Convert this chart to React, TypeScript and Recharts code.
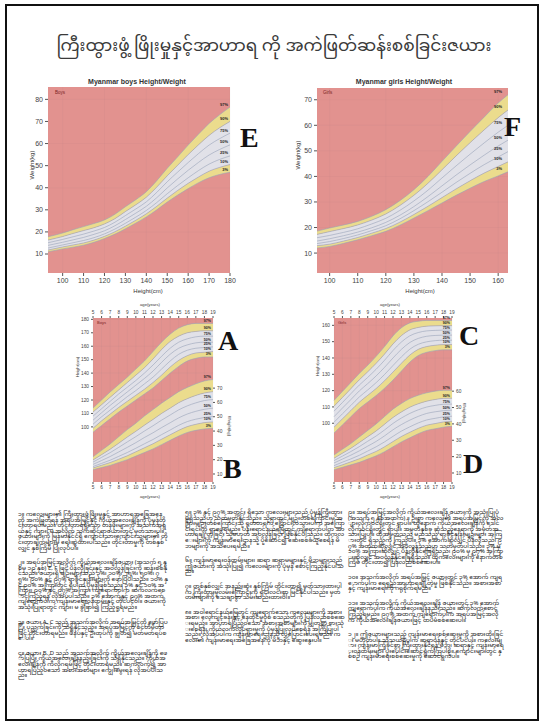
import React from "react";
import { ComposedChart, Area, Line, XAxis, YAxis, CartesianGrid } from "recharts";

const PERCENTILES = ["3%", "10%", "25%", "50%", "75%", "90%", "97%"];

// E: boys weight for height
const boysWhHeight = [93, 100, 105, 110, 115, 120, 125, 130, 135, 140, 145, 150, 155, 160, 165, 170, 175, 180];
const boysWh3 = [11, 12.3, 13.1, 14, 15.3, 17, 19, 21.4, 24, 26.8, 30, 33.5, 36.7, 39.6, 42.3, 44.5, 46, 47];
const boysWh10 = [11.8, 13.2, 14.1, 15, 16.3, 18, 20.1, 22.6, 25.3, 28.2, 31.6, 35.3, 38.8, 42, 44.9, 47.5, 49.2, 50.5];
const boysWh25 = [12.7, 14.1, 15.1, 16.1, 17.4, 19.1, 21.3, 23.9, 26.7, 29.7, 33.3, 37.3, 41, 44.5, 47.8, 50.7, 52.8, 54.4];
const boysWh50 = [13.9, 15.3, 16.4, 17.5, 18.9, 20.5, 22.8, 25.6, 28.5, 31.6, 35.5, 39.9, 44, 47.9, 51.5, 54.8, 57.3, 59.4];
const boysWh75 = [15.1, 16.6, 17.8, 19, 20.4, 22, 24.4, 27.4, 30.4, 33.6, 37.9, 42.7, 47.1, 51.4, 55.5, 59.3, 62.2, 64.7];
const boysWh90 = [16.3, 17.9, 19.3, 20.6, 21.9, 23.6, 26, 29.2, 32.3, 35.7, 40.3, 45.4, 50.2, 55, 59.5, 63.7, 67.1, 70];
const boysWh97 = [17.8, 19.5, 21, 22.4, 23.8, 25.4, 28, 31.4, 34.6, 38.2, 43.2, 48.8, 54, 59.3, 64.3, 69.1, 73, 76.5];

// F: girls weight for height
const girlsWhHeight = [95.5, 100, 105, 110, 115, 120, 125, 130, 135, 140, 145, 150, 155, 160, 163.5];
const girlsWh3 = [12, 12.6, 13.8, 15.2, 16.8, 18.5, 20.9, 23.7, 26.6, 29.6, 32.6, 35.4, 38, 40.2, 41.8];
const girlsWh10 = [12.9, 13.5, 14.7, 16.1, 17.8, 19.6, 22.1, 25.1, 28.3, 31.7, 35.1, 38.3, 41.3, 43.9, 45.7];
const girlsWh25 = [13.7, 14.5, 15.7, 17.1, 18.8, 20.7, 23.4, 26.6, 30.1, 33.8, 37.6, 41.2, 44.6, 47.6, 49.7];
const girlsWh50 = [14.7, 15.6, 16.8, 18.2, 19.9, 22, 24.8, 28.2, 32.1, 36.3, 40.5, 44.5, 48.3, 51.9, 54.2];
const girlsWh75 = [16, 16.9, 18.1, 19.5, 21.4, 23.6, 26.7, 30.4, 34.6, 39.4, 44.1, 48.7, 53.1, 57.3, 60];
const girlsWh90 = [17.3, 18.4, 19.6, 21, 22.9, 25.3, 28.6, 32.6, 37.3, 42.6, 48, 53.2, 58.2, 63, 66];
const girlsWh97 = [18.6, 19.8, 21, 22.4, 24.4, 27, 30.5, 34.8, 40, 45.9, 51.8, 57.6, 63.2, 68.7, 72];

const ages = [5, 6, 7, 8, 9, 10, 11, 12, 13, 14, 15, 16, 17, 18, 19];

// A: boys height for age
const boysH3 = [96, 101, 106, 111, 115.5, 120, 124.5, 129, 134.5, 140, 145, 149, 151, 152, 152];
const boysH10 = [99, 104.5, 109.5, 114.5, 119, 123.5, 128, 133, 138.5, 144.5, 149.5, 153, 155, 155.5, 156];
const boysH25 = [102, 107.5, 112.5, 117.5, 122.5, 127, 132, 137, 143, 149, 154, 157, 158.5, 159, 159.5];
const boysH50 = [105, 110.5, 116, 121, 126, 131, 136, 141.5, 148, 154, 158.5, 161, 162.5, 163, 163];
const boysH75 = [108, 113.5, 119, 124.5, 129.5, 134.5, 140, 146, 152.5, 158.5, 163, 165.5, 167, 167.5, 167.5];
const boysH90 = [111, 116.5, 122, 127.5, 133, 138.5, 144, 150.5, 157.5, 163.5, 167.5, 170, 171, 171.5, 171.5];
const boysH97 = [114, 120, 126, 131.5, 137, 143, 149, 156, 163, 169, 173.5, 176, 177, 177, 177];

// B: boys weight for age
const boysW3 = [13, 14.5, 16, 18, 20, 22.5, 25, 27.5, 30.5, 33.5, 36.5, 39, 40.5, 41.5, 42];
const boysW10 = [14.2, 16.1, 18, 20.3, 22.7, 25.5, 28.3, 31.1, 34.3, 37.4, 40.5, 43.1, 44.7, 45.9, 46.4];
const boysW25 = [15.2, 17.4, 19.6, 22.3, 25, 28, 31.1, 34.1, 37.5, 40.7, 44, 46.6, 48.3, 49.5, 50.2];
const boysW50 = [16.7, 19.4, 22.2, 25.4, 28.6, 31.9, 35.5, 38.8, 42.4, 45.8, 49.2, 51.9, 53.8, 55.2, 56];
const boysW75 = [18.3, 21.6, 24.9, 28.6, 32.4, 36.1, 40, 43.7, 47.6, 51.2, 54.8, 57.6, 59.7, 61.3, 62];
const boysW90 = [19.8, 23.5, 27.3, 31.5, 35.8, 39.8, 44.1, 48.1, 52.3, 56, 59.8, 62.6, 64.9, 66.6, 67.5];
const boysW97 = [22, 26.5, 31, 36, 41, 45.5, 50.5, 55, 59.5, 63.5, 67.5, 70.5, 73, 75, 76];

// C: girls height for age
const girlsH3 = [94, 99, 104, 109, 113, 117, 121.5, 126.5, 132, 137.5, 141.5, 143.5, 144.5, 145, 145];
const girlsH10 = [97.6, 102.7, 107.8, 112.9, 117.1, 121.3, 126.1, 131.4, 136.8, 141.8, 145.3, 147, 147.8, 148.2, 148.2];
const girlsH25 = [100.6, 105.8, 110.9, 116.1, 120.4, 124.9, 129.9, 135.4, 140.7, 145.4, 148.4, 149.9, 150.6, 150.9, 150.9];
const girlsH50 = [104, 109.3, 114.5, 119.8, 124.3, 129, 134.3, 140, 145.3, 149.5, 152, 153.3, 153.8, 154, 154];
const girlsH75 = [107.4, 112.7, 118.1, 123.4, 128.1, 133.1, 138.6, 144.6, 149.8, 153.6, 155.6, 156.6, 156.9, 157.1, 157.1];
const girlsH90 = [110.4, 115.8, 121.2, 126.6, 131.5, 136.7, 142.4, 148.6, 153.7, 157.2, 158.7, 159.5, 159.7, 159.8, 159.8];
const girlsH97 = [114, 119.5, 125, 130.5, 135.5, 141, 147, 153.5, 158.5, 161.5, 162.5, 163, 163, 163, 163];

// D: girls weight for age
const girlsW3 = [12, 13.5, 15, 16.5, 18.5, 20.5, 23, 26, 29, 31.5, 34, 36, 37, 38, 38.5];
const girlsW10 = [13.3, 15, 16.8, 18.7, 21, 23.2, 26, 29.2, 32.3, 34.9, 37.3, 39.2, 40.2, 41.2, 41.6];
const girlsW25 = [14.5, 16.6, 18.6, 20.8, 23.4, 26, 29, 32.4, 35.6, 38.2, 40.6, 42.4, 43.4, 44.3, 44.7];
const girlsW50 = [16.1, 18.5, 20.9, 23.5, 26.4, 29.3, 32.7, 36.4, 39.6, 42.3, 44.6, 46.4, 47.4, 48.1, 48.4];
const girlsW75 = [17.6, 20.3, 23.1, 26.1, 29.4, 32.6, 36.3, 40.3, 43.6, 46.4, 48.6, 50.3, 51.3, 52, 52.1];
const girlsW90 = [19, 22.1, 25.1, 28.6, 32.2, 35.7, 39.8, 43.9, 47.3, 50.2, 52.3, 53.9, 54.9, 55.6, 55.7];
const girlsW97 = [21, 24.5, 28, 32, 36, 40, 44.5, 49, 52.5, 55.5, 57.5, 59, 60, 60.5, 60.5];

const titleText = "ကြီးထွားဖွံ့ ဖြိုးမှုနှင့်အာဟာရ ကို အကဲဖြတ်ဆန်းစစ်ခြင်းဇယား";

const col1 = [
  "၁။ ကလေးများ၏ ကြီးထွားဖွံ့ဖြိုးမှုနှင့် အာဟာရအခြေအနေကို အကဲဖြတ်ရန် အရပ်အမြင့်နှင့် ကိုယ်အလေးချိန်ကို ပုံမှန်တိုင်းတာရပါမည်။ တိုင်းတာရရှိသော တန်ဖိုးများကို အသက်အရွယ်နှင့် ကျား၊ မ အလိုက် သက်ဆိုင်ရာဇယားတွင် မှတ်သားပါ။ ဇယားများကို မြန်မာနိုင်ငံရှိ ကျောင်းသားကျောင်းသူများ၏ တိုင်းတာချက်များမှ ရေးဆွဲထားပါသည်။ တိုင်းတာမှုကို တစ်နှစ်လျှင် နှစ်ကြိမ် ပြုလုပ်ပါ။",
  "၂။ အရပ်အမြင့်အလိုက် ကိုယ်အလေးချိန်ဇယား (အသက် ၅ နှစ်မှ ၁၉ နှစ်) E, F ဖြင့် ပိန်လှီခြင်းနှင့် အဝလွန်ခြင်းကို ဆန်းစစ်နိုင်သည်။ ဇယားရှိ မျဉ်းများသည် ၃%၊ ၁၀%၊ ၂၅%၊ ၅၀%၊ ၇၅%၊ ၉၀% နှင့် ၉၇% ရာခိုင်နှုန်းများကို ဖော်ပြပါသည်။ ၁၀% နှင့် ၉၀% အကြားတွင် ရှိပါက ပုံမှန်ဖြစ်သည်။ ၃% နှင့် ၁၀% အကြား၊ ၉၀% နှင့် ၉၇% အကြား ကျရောက်ပါက ဆက်လက်စောင့်ကြည့်ရန် လိုအပ်ပါသည်။ ၃% အောက်နှင့် ၉၇% အထက် ကျရောက်ပါက ကျန်းမာရေးဝန်ထမ်းနှင့် တိုင်ပင်ပါ။ ဇယားကို အသုံးပြုရာတွင် ကျား၊ မ ခွဲခြား၍ ကြည့်ရှုရမည်။",
  "၃။ ဇယား A, C သည် အသက်အလိုက် အရပ်အမြင့်ကို ဖော်ပြပြီး ပုညှက်ခြင်းကို သိရှိနိုင်သည်။ အရပ်အမြင့်ကို စင်တီမီတာဖြင့် တိုင်းတာရမည်။ ဖိနပ်နှင့် ဦးထုပ်ကို ချွတ်၍ မတ်မတ်ရပ်စေပါ။",
  "၄။ ဇယား B, D သည် အသက်အလိုက် ကိုယ်အလေးချိန်ကို ဖော်ပြပြီး ကိုယ်အလေးချိန်နည်းခြင်းကို သိရှိနိုင်သည်။ ကိုယ်အလေးချိန်ကို ကီလိုဂရမ်ဖြင့် တိုင်းတာရမည်။ ဆက်လက်၍ အာဟာရပြည့်ဝသော အစားအစာများ ကျွေးမွေးရန် လိုအပ်ပါသည်။",
];

const col2 = [
  "၅။ ၃% နှင့် ၉၇% အတွင်း ရှိသော ကလေးများသည် ပုံမှန်ကြီးထွားမှုရှိသည်ဟု သတ်မှတ်နိုင်သည်။ သို့ရာတွင် မျဉ်းတစ်ကြောင်းမှ အခြားမျဉ်းတစ်ကြောင်းသို့ ရုတ်တရက် ပြောင်းလဲသွားပါက အကြောင်းရင်းကို ရှာဖွေရမည်။ ပန်းရောင်နယ်မြေတွင် ကျရောက်ပါက အာဟာရချို့တဲ့ခြင်း သို့မဟုတ် အဝလွန်ခြင်း ဖြစ်နိုင်ပါသည်။ ထိုကလေးများကို ကျန်းမာရေးဌာနသို့ ပို့ဆောင်၍ ဆေးစစ်ခံယူစေရန် မိဘများကို အသိပေးရမည်။",
  "၆။ ကျန်းမာရေးဝန်ထမ်းများ၊ ဆရာ ဆရာမများနှင့် မိဘများသည် ဤဇယားကို အသုံးပြု၍ ကလေးများကို ပုံမှန် စောင့်ကြည့်နိုင်ပါသည်။",
  "၇။ တစ်နှစ်လျှင် အနည်းဆုံး နှစ်ကြိမ် တိုင်းတာ၍ မှတ်သားထားပါက ကြီးထွားမှုလမ်းကြောင်းကို ရှင်းလင်းစွာ မြင်နိုင်ပါသည်။ မှတ်တမ်းများကို သေချာစွာ သိမ်းဆည်းထားပါ။",
  "၈။ အဝါရောင်နယ်မြေတွင် ကျရောက်သော ကလေးများကို အစားအစာ၊ လေ့ကျင့်ခန်းနှင့် နေထိုင်မှုပုံစံ စသည်တို့ကို ပြန်လည်စစ်ဆေးရမည်။ အာဟာရပြည့်ဝသော အစားအစာများကို မျှတစွာ စားသုံးစေရန်၊ ကိုယ်လက်လှုပ်ရှားမှုကို ပုံမှန်ပြုလုပ်စေရန် အကြံပြုပါသည်။ လိုအပ်ပါက ကျန်းမာရေးဌာနသို့ လွှဲပြောင်းပေးရမည်။ ကလေး၏ ကျန်းမာရေးအခြေအနေကို မိဘနှင့် ဆွေးနွေးပါ။",
];

const col3 = [
  "၉။ အရပ်အမြင့်အလိုက် ကိုယ်အလေးချိန် ဇယားကို အသုံးပြုပုံ (အသက် ၅ နှစ်အထက်) ။ ဦးစွာ ကလေး၏ အရပ်အမြင့်ကို အလျားလိုက်ဝင်ရိုးတွင် ရှာပါ။ ထို့နောက် ကိုယ်အလေးချိန်ကို ဒေါင်လိုက်ဝင်ရိုးတွင် ရှာပါ။ အမှတ်နှစ်ခု ဆုံသည့်နေရာကို အမှတ်အသားပြုပါ။ ထိုအမှတ်သည် မည်သည့် ရာခိုင်နှုန်းမျဉ်းများ အကြားတွင် ရှိသည်ကို ကြည့်ပါ။ ၃% အောက်ဆိုလျှင် ပိန်လှီသည်၊ ၉၇% အထက်ဆိုလျှင် အဝလွန်သည်ဟု သတ်မှတ်ပါသည်။ ၃% မှ ၁၀% အကြားဆိုလျှင် ပိန်လှီနိုင်ခြေရှိသည်၊ ၉၀% မှ ၉၇% အကြားဆိုလျှင် အဝလွန်နိုင်ခြေရှိသည်။ ထိုကလေးများကို နောက်တစ်ကြိမ် တိုင်းတာ၍ ပြန်လည်စစ်ဆေးပါ။",
  "၁၀။ အသက်အလိုက် အရပ်အမြင့် ဇယားတွင် ၃% အောက် ကျရောက်ပါက ရေရှည်အာဟာရချို့တဲ့မှု ဖြစ်နိုင်သည်။ အစားအစာနှင့် ကျန်းမာရေးကို ဂရုစိုက်ရမည်။",
  "၁၁။ အသက်အလိုက် ကိုယ်အလေးချိန် ဇယားတွင် ၃% အောက် ကျရောက်ပါက ကိုယ်အလေးချိန်နည်းသည်။ ဆက်လက်စောင့်ကြည့်ရမည်။ ၉၇% အထက် ကျရောက်ပါက အရပ်အမြင့်အလိုက် ကိုယ်အလေးချိန်ဇယားဖြင့် ထပ်မံစစ်ဆေးပါ။",
  "၁၂။ ဤဇယားများသည် ကျန်းမာရေးစစ်ဆေးမှုကို အစားထိုးခြင်း မဟုတ်ပါ။ သံသယရှိပါက ဆရာဝန်နှင့် တိုင်ပင်ပါ။ ကလေးများ ကျန်းမာကြံ့ခိုင်စွာ ကြီးထွားနိုင်ရန် မိဘ၊ ဆရာနှင့် ကျန်းမာရေးဝန်ထမ်းများ ပူးပေါင်းဆောင်ရွက်ကြပါစို့။ ကျောင်းများတွင် နှစ်စဉ် ကျန်းမာရေးစစ်ဆေးမှုကို ဆောင်ရွက်ပါ။",
];

const PINK = "#e2928f";
const YELLOW = "#ebe08d";
const BLUE = "#e1e8f0";
const LINE = "#98a3b8";
const SANS = "'Liberation Sans', Arial, sans-serif";
const MYANMAR = "'Noto Sans Myanmar', 'Myanmar Text', Padauk, 'Noto Sans', sans-serif";

type Row = Record<string, number | number[]>;

function addSeries(rows: Row[], prefix: string, series: number[][]) {
  rows.forEach((row, i) => {
    series.forEach((s, k) => {
      row[`${prefix}${k}`] = s[i];
    });
    row[`${prefix}lo`] = [series[0][i], series[1][i]];
    row[`${prefix}mid`] = [series[1][i], series[5][i]];
    row[`${prefix}hi`] = [series[5][i], series[6][i]];
  });
  return rows;
}

function endLabel(text: string, last: number, fontSize: number, dx: number) {
  return (props: any) => {
    if (props.index !== last) return <g />;
    return (
      <text x={props.x + dx} y={props.y - 1.5} textAnchor="end" fontSize={fontSize} fontWeight="bold" fill="#222" fontFamily={SANS}>
        {text}
      </text>
    );
  };
}

function bands(prefix: string, count: number, yAxisId: string | number, labelSize: number, dx: number) {
  const last = count - 1;
  const out: React.ReactElement[] = [
    <Area key={prefix + "lo"} yAxisId={yAxisId} type="monotone" dataKey={prefix + "lo"} fill={YELLOW} fillOpacity={0.95} stroke="none" isAnimationActive={false} />,
    <Area key={prefix + "mid"} yAxisId={yAxisId} type="monotone" dataKey={prefix + "mid"} fill={BLUE} fillOpacity={0.92} stroke="none" isAnimationActive={false} />,
    <Area key={prefix + "hi"} yAxisId={yAxisId} type="monotone" dataKey={prefix + "hi"} fill={YELLOW} fillOpacity={0.95} stroke="none" isAnimationActive={false} />,
  ];
  PERCENTILES.forEach((p, k) => {
    out.push(
      <Line
        key={prefix + k}
        yAxisId={yAxisId}
        type="monotone"
        dataKey={prefix + k}
        stroke={LINE}
        strokeWidth={0.6}
        dot={false}
        isAnimationActive={false}
        label={endLabel(p, last, labelSize, dx)}
      />
    );
  });
  return out;
}

function Txt({ x, y, size, children, rotate, anchor = "middle", bold, family = SANS, color = "#333" }: any) {
  const tx = anchor === "middle" ? "-50%" : anchor === "end" ? "-100%" : "0";
  return (
    <div
      style={{
        position: "absolute",
        left: x,
        top: y,
        transform: `translate(${tx}, -50%)${rotate ? ` rotate(${rotate}deg)` : ""}`,
        fontSize: size,
        fontWeight: bold ? "bold" : "normal",
        fontFamily: family,
        color,
        whiteSpace: "nowrap",
        lineHeight: 1,
      }}
    >
      {children}
    </div>
  );
}

const tick7 = { fontSize: 7, fill: "#444", fontFamily: SANS };
const tick5 = { fontSize: 4.8, fill: "#444", fontFamily: SANS };

function WeightHeightChart({ left, top, width, height, margin, xs, series, xDomain, xTicks, yDomain, yTicks, labelDx }: any) {
  const rows = addSeries(xs.map((x: number) => ({ x })), "p", series);
  return (
    <div style={{ position: "absolute", left, top }}>
      <ComposedChart width={width} height={height} data={rows} margin={margin}>
        <CartesianGrid fill={PINK} fillOpacity={1} stroke="#6b6f88" strokeOpacity={0.08} strokeWidth={0.5} verticalValues={xTicks} horizontalValues={yTicks} />
        <XAxis dataKey="x" type="number" domain={xDomain} ticks={xTicks} tick={tick7} tickSize={3} axisLine={false} tickLine={{ stroke: "#555" }} height={22} allowDataOverflow />
        <YAxis type="number" domain={yDomain} ticks={yTicks} tick={tick7} tickSize={3} axisLine={false} tickLine={{ stroke: "#555" }} width={22} allowDataOverflow />
        {bands("p", xs.length, 0, 4, labelDx)}
      </ComposedChart>
    </div>
  );
}

function AgeChart({ left, top, margin, hSeries, wSeries, hDomain, hTicks, wDomain, wTicks }: any) {
  const rows = addSeries(addSeries(ages.map((a) => ({ age: a })), "h", hSeries), "w", wSeries);
  return (
    <div style={{ position: "absolute", left, top }}>
      <ComposedChart width={180} height={210} data={rows} margin={margin}>
        <CartesianGrid yAxisId="h" fill={PINK} fillOpacity={1} stroke="#6b6f88" strokeOpacity={0.1} strokeWidth={0.5} verticalValues={ages} horizontalValues={hTicks} />
        <XAxis dataKey="age" type="number" domain={[5, 19]} ticks={ages} tick={tick5} tickSize={2} axisLine={false} tickLine={{ stroke: "#555" }} height={12} interval={0} />
        <XAxis xAxisId="top" orientation="top" dataKey="age" type="number" domain={[5, 19]} ticks={ages} tick={tick5} tickSize={2} axisLine={false} tickLine={{ stroke: "#555" }} height={12} interval={0} />
        <YAxis yAxisId="h" type="number" domain={hDomain} ticks={hTicks} tick={tick5} tickSize={2} axisLine={false} tickLine={{ stroke: "#555" }} width={28} allowDataOverflow />
        <YAxis yAxisId="w" orientation="right" type="number" domain={wDomain} ticks={wTicks} tick={tick5} tickSize={2} axisLine={false} tickLine={{ stroke: "#555" }} width={20} allowDataOverflow />
        {bands("h", ages.length, "h", 3.6, -2)}
        {bands("w", ages.length, "w", 3.6, -2)}
      </ComposedChart>
    </div>
  );
}

function Paragraphs({ left, top, width, items, gap }: any) {
  return (
    <div style={{ position: "absolute", left, top, width, fontFamily: MYANMAR, fontSize: 5.9, lineHeight: "5.6px", color: "#151515", wordBreak: "break-all" }}>
      {items.map((t: string, i: number) => (
        <p key={i} style={{ margin: `0 0 ${gap}px 0` }}>{t}</p>
      ))}
    </div>
  );
}

const letterStyle = { family: "'Liberation Serif', 'Times New Roman', serif", bold: true, color: "#111", size: 28 };

export default function App() {
  return (
    <div style={{ position: "relative", width: 542, height: 725, background: "#fff", overflow: "hidden" }}>
      <style>{`body{margin:0}`}</style>
      <div style={{ position: "absolute", left: 5, top: 4, width: 534, height: 717, border: "2px solid #111", boxSizing: "border-box" }} />

      <Txt x={274} y={47} size={17} family={MYANMAR} color="#3a3a3a">{titleText}</Txt>

      <Txt x={137} y={81} size={7} bold>Myanmar boys Height/Weight</Txt>
      <Txt x={404} y={81} size={7} bold>Myanmar girls Height/Weight</Txt>

      <WeightHeightChart
        left={20} top={70} width={230} height={235}
        margin={{ top: 17, right: 20, bottom: 10, left: 6 }}
        xs={boysWhHeight}
        series={[boysWh3, boysWh10, boysWh25, boysWh50, boysWh75, boysWh90, boysWh97]}
        xDomain={[93, 180]} xTicks={[100, 110, 120, 130, 140, 150, 160, 170, 180]}
        yDomain={[1.4, 85.6]} yTicks={[10, 20, 30, 40, 50, 60, 70, 80]}
        labelDx={-2}
      />
      <WeightHeightChart
        left={285} top={70} width={245} height={235}
        margin={{ top: 18, right: 22, bottom: 10, left: 10 }}
        xs={girlsWhHeight}
        series={[girlsWh3, girlsWh10, girlsWh25, girlsWh50, girlsWh75, girlsWh90, girlsWh97]}
        xDomain={[95.5, 163.5]} xTicks={[100, 110, 120, 130, 140, 150, 160]}
        yDomain={[2.2, 74.6]} yTicks={[10, 20, 30, 40, 50, 60, 70]}
        labelDx={-6}
      />
      <Txt x={55} y={93} size={4.5} color="#7a1f1f" anchor="start">Boys</Txt>
      <Txt x={323} y={93} size={4.5} color="#7a1f1f" anchor="start">Girls</Txt>
      <Txt x={32} y={165} size={6} rotate={-90}>Weight(kg)</Txt>
      <Txt x={298} y={155} size={6} rotate={-90}>Weight(kg)</Txt>
      <Txt x={148} y={291} size={6}>Height(cm)</Txt>
      <Txt x={420} y={291} size={6}>Height(cm)</Txt>

      <AgeChart
        left={60} top={295}
        margin={{ top: 11, right: 7, bottom: 11, left: 5 }}
        hSeries={[boysH3, boysH10, boysH25, boysH50, boysH75, boysH90, boysH97]}
        wSeries={[boysW3, boysW10, boysW25, boysW50, boysW75, boysW90, boysW97]}
        hDomain={[59, 181]} hTicks={[100, 110, 120, 130, 140, 150, 160, 170, 180]}
        wDomain={[4.4, 119]} wTicks={[10, 20, 30, 40, 50, 60, 70]}
      />
      <AgeChart
        left={300} top={295}
        margin={{ top: 11, right: 8, bottom: 11, left: 6 }}
        hSeries={[girlsH3, girlsH10, girlsH25, girlsH50, girlsH75, girlsH90, girlsH97]}
        wSeries={[girlsW3, girlsW10, girlsW25, girlsW50, girlsW75, girlsW90, girlsW97]}
        hDomain={[64, 164.5]} hTicks={[100, 110, 120, 130, 140, 150, 160]}
        wDomain={[4.5, 104.7]} wTicks={[10, 20, 30, 40, 50, 60]}
      />
      <Txt x={97} y={323} size={4} color="#7a1f1f" anchor="start">Boys</Txt>
      <Txt x={338} y={323} size={4} color="#7a1f1f" anchor="start">Girls</Txt>
      <Txt x={150} y={305} size={4.2}>age(years)</Txt>
      <Txt x={150} y={497} size={4.2}>age(years)</Txt>
      <Txt x={390} y={305} size={4.2}>age(years)</Txt>
      <Txt x={390} y={497} size={4.2}>age(years)</Txt>
      <Txt x={78} y={367} size={4.2} rotate={-90}>Height(cm)</Txt>
      <Txt x={229} y={426} size={4.2} rotate={90}>Weight(kg)</Txt>
      <Txt x={318} y={366} size={4.2} rotate={-90}>Height(cm)</Txt>
      <Txt x={464} y={413} size={4.2} rotate={90}>Weight(kg)</Txt>

      <Txt x={240} y={138} {...letterStyle} anchor="start">E</Txt>
      <Txt x={504} y={127} {...letterStyle} anchor="start">F</Txt>
      <Txt x={218} y={341} {...letterStyle} anchor="start">A</Txt>
      <Txt x={223} y={469} {...letterStyle} anchor="start">B</Txt>
      <Txt x={459} y={336} {...letterStyle} anchor="start">C</Txt>
      <Txt x={463} y={464} {...letterStyle} anchor="start">D</Txt>

      <Paragraphs left={18} top={512} width={150} items={col1} gap={9} />
      <Paragraphs left={185} top={510} width={160} items={col2} gap={9} />
      <Paragraphs left={348} top={510} width={156} items={col3} gap={9} />
    </div>
  );
}
